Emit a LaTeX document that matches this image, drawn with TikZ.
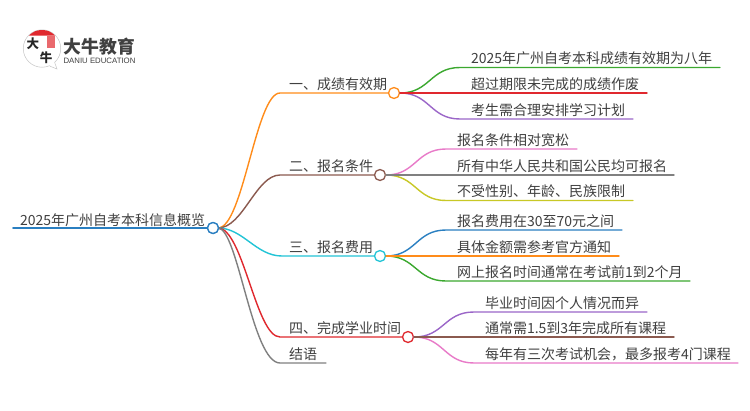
\documentclass[tikz,border=0pt]{standalone}
\usepackage{fontspec}
\setmainfont{Noto Sans CJK SC}
\newfontfamily\latinlogo{Liberation Sans}
\definecolor{cblue}{HTML}{2A7FC1}
\definecolor{corange}{HTML}{FF8C1A}
\definecolor{cbrown}{HTML}{8B5A4F}
\definecolor{ccyan}{HTML}{22C4D6}
\definecolor{cred}{HTML}{E0282E}
\definecolor{cgray}{HTML}{808080}
\definecolor{cgreen}{HTML}{3BA82F}
\definecolor{cpurple}{HTML}{9B66C8}
\definecolor{cpink}{HTML}{E87AC8}
\definecolor{colive}{HTML}{C8C826}
\definecolor{ctext}{HTML}{404040}
\tikzset{
  txt/.style={anchor=base west,inner sep=0pt,outer sep=0pt,text=ctext,font=\fontsize{14}{14}\selectfont},
  hub/.style={circle,draw=#1,fill=white,line width=1.3pt,minimum size=11pt,inner sep=0pt},
  wire/.style={draw=#1,line width=1.4pt,line cap=round},
}
\begin{document}
\begin{tikzpicture}[x=1pt,y=-1pt]
\useasboundingbox (0,0) rectangle (750,410);
\fill[white] (0,0) rectangle (750,410);
% logo
\node[circle,draw=gray!45,line width=0.5pt,fill=white,minimum size=37.5pt,inner sep=0pt] (logo) at (42,48.5) {};
\fill[white] (49,65) -- (57,69) -- (54.5,61) -- cycle;
\draw[gray!45,line width=0.5pt] (50,66.2) -- (57,69) -- (54.5,62);
\fill[cred] (29,35.5) .. controls (33,31.5) and (37,30) .. (42,30) .. controls (47,30) and (51,31.5) .. (55,35.5) -- cycle;
\fill[cred!70] (46.5,35.5) rectangle (54.5,48);
\node[inner sep=0pt,text=black!85] (logoa) at (33,44) {\fontsize{12.5}{13}\selectfont\bfseries 大};
\node[inner sep=0pt,text=black!85] (logob) at (46,57.5) {\fontsize{12.5}{13}\selectfont\bfseries 牛};
\node[inner sep=0pt,text=ctext] (logoc) at (99.5,47) {\fontsize{17.8}{18}\selectfont\bfseries 大牛教育};
\node[inner sep=0pt,text=ctext] (logod) at (99.5,60.7) {\latinlogo\fontsize{7.8}{8}\selectfont DANIU EDUCATION};
% root
\coordinate (r0) at (13,228);
\node[txt] (rt) at (20,225) {2025年广州自考本科信息概览};
\node[hub=cblue] (R) at (213,228) {};
\foreach \n/\c/\x/\y in {A/corange/394/93,B/cbrown/380/175,C/ccyan/380/256,D/cred/408/337}
  {\node[hub=\c] (\n) at (\x,\y) {};}
\draw[wire=cblue,line width=1.8pt] (r0) -- (R);
\coordinate (A1) at (280,93); \coordinate (B1) at (280,175); \coordinate (C1) at (282,256); \coordinate (D1) at (280,337); \coordinate (E1) at (280,363); \coordinate (E2) at (326,363);
\coordinate (Rs) at (218,228);
\draw[wire=corange] (Rs) .. controls (243,228) and (256,93) .. (A1) -- (A);
\draw[wire=cbrown] (Rs) .. controls (243,228) and (256,175) .. (B1) -- (B);
\draw[wire=ccyan] (Rs) .. controls (243,228) and (256,256) .. (C1) -- (C);
\draw[wire=cred] (Rs) .. controls (243,228) and (256,337) .. (D1) -- (D);
\draw[wire=cgray] (Rs) .. controls (238,228) and (252,363) .. (E1) -- (E2);
\node[hub=cblue] at (R) {};
% branch texts
\node[txt] (ta) at (289,89) {一、成绩有效期};
\node[txt] (tb) at (289,171) {二、报名条件};
\node[txt] (tc) at (289,252) {三、报名费用};
\node[txt] (td) at (289,333) {四、完成学业时间};
\node[txt] (te) at (289,359) {结语};
% leaves
\newcommand{\leaf}[8]{%
  \coordinate (#1s) at (#2,#3);
  \coordinate (#1m) at (#4,#5);
  \coordinate (#1e) at (#6,#5);
  \draw[wire=#7] (#1s) .. controls ({(#2+#4)/2},#3) and ({(#2+#4)/2},#5) .. (#1m) -- (#1e);
  \node[txt] (#1t) at ({#4+11},{#5-4}) {#8};
}
\leaf{la}{400}{93}{460}{67.5}{720}{cgreen}{2025年广州自考本科成绩有效期为八年}
\leaf{lc}{400}{93}{460}{119}{633}{cpurple}{考生需合理安排学习计划}
\leaf{lb}{400}{93}{460}{93}{647}{cred}{超过期限未完成的成绩作废}
\leaf{ld}{386}{175}{446}{149}{577}{cpink}{报名条件相对宽松}
\leaf{lf}{386}{175}{446}{200.5}{633}{colive}{不受性别、年龄、民族限制}
\leaf{le}{386}{175}{446}{175}{674}{cgray}{所有中华人民共和国公民均可报名}
\leaf{lg}{386}{256}{446}{230}{622}{cblue}{报名费用在30至70元之间}
\leaf{li}{386}{256}{446}{281}{690}{cgreen}{网上报名时间通常在考试前1到2个月}
\leaf{lh}{386}{256}{446}{256}{619}{corange}{具体金额需参考官方通知}
\leaf{lj}{414}{337}{474}{312}{647}{cpurple}{毕业时间因个人情况而异}
\leaf{ll}{414}{337}{474}{363}{738}{cpink}{每年有三次考试机会，最多报考4门课程}
\leaf{lk}{414}{337}{474}{337}{674}{cbrown}{通常需1.5到3年完成所有课程}
\end{tikzpicture}
\end{document}
